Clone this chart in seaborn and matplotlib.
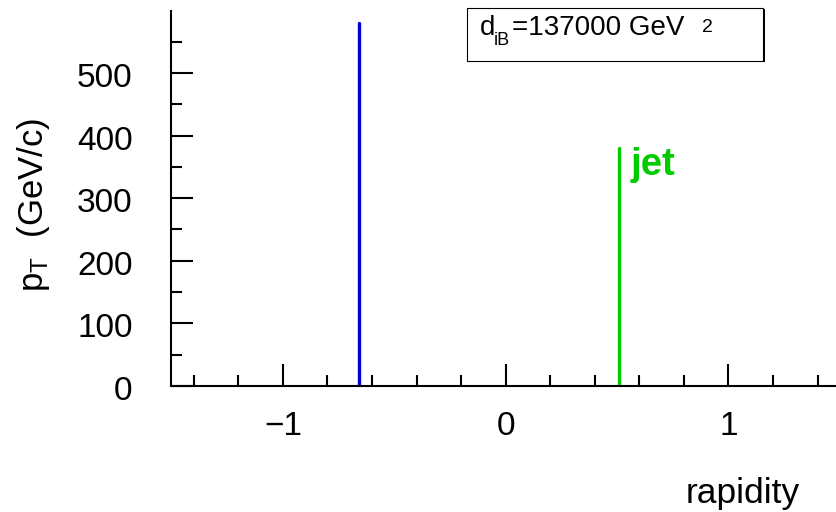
import matplotlib
matplotlib.use("Agg")
import matplotlib.pyplot as plt
import seaborn as sns
import pandas as pd
from matplotlib.patches import Rectangle
from matplotlib.ticker import MultipleLocator
from matplotlib.transforms import ScaledTranslation

# Data
particles = ["beam", "jet"]
rapidities = [-0.66, 0.51]
pts = [580, 380]
colors = ["#0000d0", "#00cc00"]
dib_main = "d"
dib_sub = "iB"
dib_value = "=137000 GeV"
dib_sup = "2"

sns.set_style("white")
plt.rcParams["font.family"] = ["Liberation Sans", "DejaVu Sans"]
plt.rcParams["mathtext.fontset"] = "custom"
plt.rcParams["mathtext.rm"] = "Liberation Sans"
plt.rcParams["mathtext.it"] = "Liberation Sans:italic"
plt.rcParams["mathtext.bf"] = "Liberation Sans:bold"
for k in ["text.color", "axes.labelcolor", "xtick.color", "ytick.color", "axes.edgecolor"]:
    plt.rcParams[k] = "black"

rows = []
for name, y, pt in zip(particles, rapidities, pts):
    rows.append({"name": name, "rapidity": y, "pt": 0.0})
    rows.append({"name": name, "rapidity": y, "pt": pt})
df = pd.DataFrame(rows)

fig = plt.figure(figsize=(8.37, 5.12), dpi=100)
W, H = 837, 512
ax = fig.add_axes([171.5 / W, 1 - 386 / H, (839.8 - 171.5) / W, (386 - 11) / H])

sns.lineplot(data=df, x="rapidity", y="pt", hue="name", units="name",
             estimator=None, sort=False, palette=dict(zip(particles, colors)),
             linewidth=2.4, legend=False, ax=ax)

ax.set_xlim(-1.5, 1.5)
ax.set_ylim(0, 599)
ax.xaxis.set_major_locator(MultipleLocator(1))
ax.xaxis.set_minor_locator(MultipleLocator(0.2))
ax.yaxis.set_major_locator(MultipleLocator(100))
ax.yaxis.set_minor_locator(MultipleLocator(50))

for s in ["top", "right"]:
    ax.spines[s].set_visible(False)
for s in ["left", "bottom"]:
    ax.spines[s].set_linewidth(1.5)
    ax.spines[s].set_color("black")

ax.tick_params(which="both", left=True, bottom=True, right=False, top=False)
ax.tick_params(which="major", direction="in", length=16, width=1.5,
               labelsize=24, colors="black")
ax.tick_params(which="minor", direction="in", length=8, width=1.5, colors="black")
ax.tick_params(axis="x", which="major", pad=18)
ax.tick_params(axis="y", which="major", pad=28)
shift = ScaledTranslation(0, -2 / 100, fig.dpi_scale_trans)
for lab in ax.get_yticklabels():
    lab.set_transform(lab.get_transform() + shift)

ax.set_xlabel("rapidity", fontsize=25.5, ha="right")
ax.xaxis.set_label_coords((800 - 171.5) / (839.8 - 171.5), -0.243)
ax.set_ylabel(r"p$_{\mathrm{T}}$  (GeV/c)", fontsize=25)
ax.yaxis.set_label_coords(-0.1785, 0.483)

# jet label
ax.annotate("jet", xy=(rapidities[1], pts[1]), xytext=(8, 1),
            textcoords="offset points", color=colors[1], fontsize=27.5,
            fontweight="bold", ha="left", va="top")

# d_iB box
x0, x1, y0, y1 = 466.7, 763, 8, 61
fig.patches.append(Rectangle((x0 / W + 2 / W, 1 - (y1 + 0.5) / H), (x1 - x0) / W, (y1 - y0) / H,
                             transform=fig.transFigure, facecolor="black",
                             edgecolor="none", zorder=1))
fig.patches.append(Rectangle((x0 / W, 1 - y1 / H), (x1 - x0) / W, (y1 - y0) / H,
                             transform=fig.transFigure, facecolor="white",
                             edgecolor="black", linewidth=0.8, zorder=2))
fig.text(480 / W, 1 - 35 / H, dib_main, fontsize=20, ha="left", va="baseline", zorder=3)
fig.text(494 / W, 1 - 45 / H, dib_sub, fontsize=13, ha="left", va="baseline", zorder=3)
t_val = fig.text(512 / W, 1 - 35 / H, dib_value, fontsize=20, ha="left", va="baseline", zorder=3)
fig.canvas.draw()
bb = t_val.get_window_extent()
fig.text((bb.x1 + 18) / W, 1 - 32 / H, dib_sup, fontsize=14, ha="left", va="baseline", zorder=3)

fig.savefig("out.png", dpi=100)
